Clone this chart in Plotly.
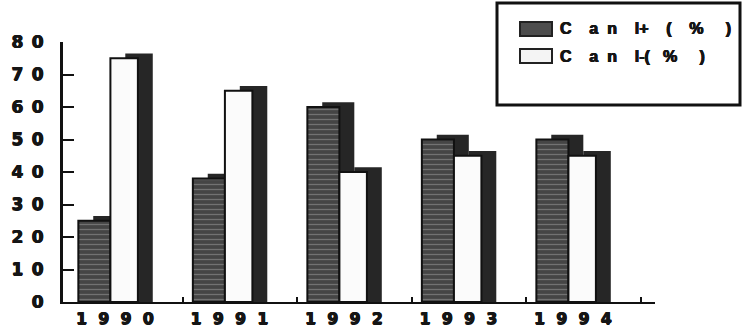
import plotly.graph_objects as go

# ---- data ----
years = ["1990", "1991", "1992", "1993", "1994"]
series_names = ["Canl+(%)", "Canl-(%)"]
canl_plus = [25, 38, 60, 50, 50]
canl_minus = [75, 65, 40, 45, 45]
y_ticks = [0, 10, 20, 30, 40, 50, 60, 70, 80]

NB = "\u00a0"
def spaced(s, sep):
    return "<b>" + sep.join(list(s)) + "</b>"

def gapped(s, gaps):
    out = ""
    for ch, g in zip(s, gaps + [0]):
        out += ch + NB * g
    return "<b>" + out + "</b>"

# letter gaps (number of spaces after each character) for legend text
legend_gaps = [[4, 2, 4, 0, 4, 4, 5], [4, 2, 4, 0, 0, 3, 5]]

W, H = 751, 329
L, R, T, B = 63, 96, 42, 27
PW, PH = W - L - R, H - T - B

def xp(px):
    return (px - L) / PW

def yp(py):
    return (H - B - py) / PH

xs = list(range(len(years)))
dx = 0.13      # depth offset (x units)
dy = 1.5       # depth offset (y units)

fig = go.Figure()

# Canl+ side (depth)
fig.add_trace(go.Bar(x=xs, y=[v + dy for v in canl_plus], offset=-0.32 + dx, width=0.28,
                     marker=dict(color="#262626", line=dict(width=0)), showlegend=False, hoverinfo="skip"))
# Canl+ front
fig.add_trace(go.Bar(x=xs, y=canl_plus, offset=-0.32, width=0.28, name=series_names[0],
                     marker=dict(color="#4d4d4d", line=dict(width=2, color="#111"),
                                 pattern=dict(shape="-", fgcolor="#a0a0a0", bgcolor="#454545",
                                              size=5, solidity=0.25)),
                     showlegend=False))
# Canl- side (depth)
fig.add_trace(go.Bar(x=xs, y=[v + dy for v in canl_minus], offset=-0.04 + dx, width=0.24,
                     marker=dict(color="#262626", line=dict(width=0)), showlegend=False, hoverinfo="skip"))
# Canl- front
fig.add_trace(go.Bar(x=xs, y=canl_minus, offset=-0.04, width=0.24, name=series_names[1],
                     marker=dict(color="#fbfbfb", line=dict(width=2, color="#111")),
                     showlegend=False))

font_num = "DejaVu Sans, Arial, sans-serif"
font_leg = "Liberation Sans, Arial, sans-serif"
heavy = "0.5px 0 0 #151515, -0.5px 0 0 #151515, 0 0.4px 0 #151515"

fig.update_layout(
    width=W, height=H, barmode="overlay",
    margin=dict(l=L, r=R, t=T, b=B, pad=0),
    paper_bgcolor="white", plot_bgcolor="white",
    font=dict(family=font_num, size=16, color="#151515"),
    xaxis=dict(range=[-0.454, 4.716], tickmode="array", tickvals=xs,
               ticktext=[spaced(y, NB * 2) for y in years],
               ticks="", showgrid=False, zeroline=False, automargin=False,
               showline=True, linecolor="#111", linewidth=2,
               ticklabelstandoff=1,
               tickfont=dict(size=16, family=font_num, shadow=heavy),
               minor=dict(tickmode="array", tickvals=[i + 0.59 for i in xs],
                          ticks="inside", ticklen=5, tickwidth=2, tickcolor="#111")),
    yaxis=dict(range=[0, 80], tickmode="array", tickvals=y_ticks,
               ticktext=[spaced(str(v), "\u2002") for v in y_ticks],
               ticks="inside", ticklen=11, tickwidth=2, tickcolor="#111", automargin=False,
               showgrid=False, zeroline=False, showline=True, linecolor="#111", linewidth=3,
               ticklabelstandoff=13,
               tickfont=dict(size=17, family=font_num, shadow=heavy)),
)

# ---- manual legend ----
fig.add_shape(type="rect", xref="paper", yref="paper",
              x0=xp(497), x1=xp(740), y0=yp(105), y1=yp(3),
              line=dict(color="#111", width=3), fillcolor="white", layer="above")
sw = [
    dict(y0=22, y1=36, fill="#4d4d4d"),
    dict(y0=49, y1=63, fill="#f4f4f4"),
]
for i, s in enumerate(sw):
    fig.add_shape(type="rect", xref="paper", yref="paper",
                  x0=xp(520), x1=xp(552), y0=yp(s["y1"]), y1=yp(s["y0"]),
                  line=dict(color="#222", width=2), fillcolor=s["fill"], layer="above")
    fig.add_annotation(xref="paper", yref="paper", x=xp(558), y=yp((s["y0"] + s["y1"]) / 2),
                       text=gapped(series_names[i], legend_gaps[i]), showarrow=False,
                       xanchor="left", yanchor="middle",
                       font=dict(size=16, family=font_leg, color="#151515", shadow=heavy))

fig.write_html("out.html")
